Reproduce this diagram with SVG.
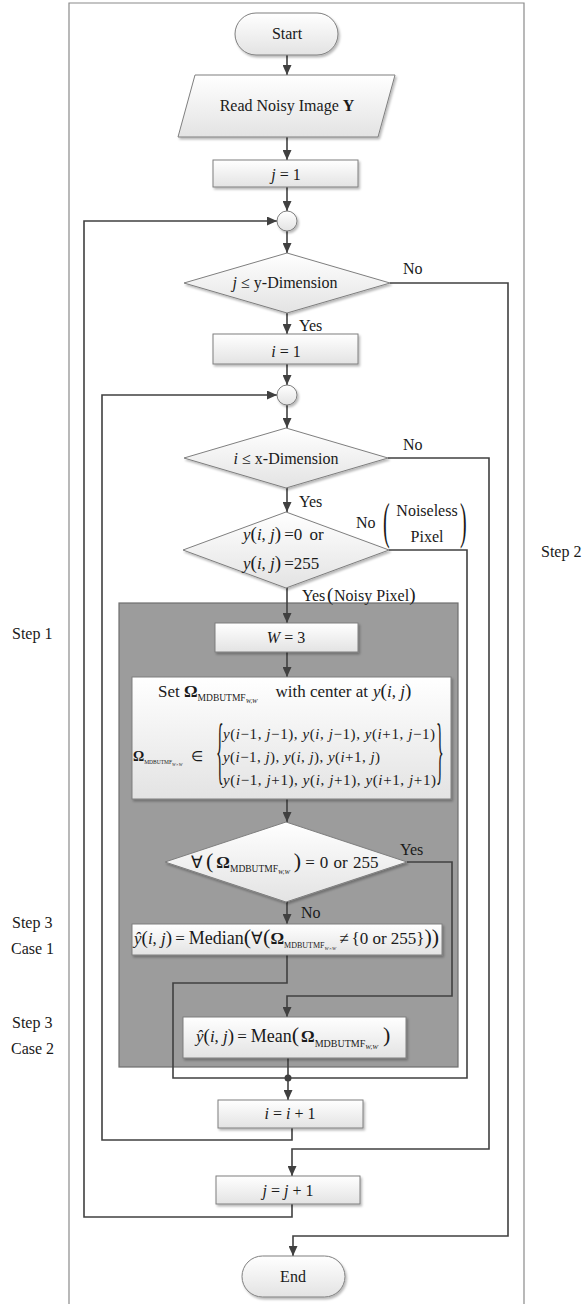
<svg xmlns="http://www.w3.org/2000/svg" width="582" height="1304" viewBox="0 0 582 1304" font-size="16">
<defs>
<linearGradient id="gf" x1="0" y1="0" x2="0" y2="1"><stop offset="0" stop-color="#ffffff"/><stop offset="1" stop-color="#e3e3e3"/></linearGradient>
<filter id="sh" x="-10%" y="-10%" width="130%" height="140%"><feDropShadow dx="1.5" dy="2" stdDeviation="1.2" flood-color="#000" flood-opacity="0.28"/></filter>
<marker id="ah" markerUnits="userSpaceOnUse" markerWidth="10" markerHeight="9" refX="10" refY="4.5" orient="auto"><path d="M0,0 L10,4.5 L0,9 z" fill="#404040"/></marker>
</defs>
<style>
.nd{fill:url(#gf);stroke:#7f7f7f;stroke-width:1;filter:url(#sh)}
.cn{fill:none;stroke:#404040;stroke-width:1.6}
.ar{marker-end:url(#ah)}
.fr{fill:none;stroke:#8a8a8a;stroke-width:1.2}
text{font-family:"Liberation Serif","Times New Roman",serif;fill:#1a1a1a}
.it{font-style:italic}
.b{font-weight:bold}
.c{text-anchor:middle}
</style>
<rect width="582" height="1304" fill="#ffffff"/>
<g id="frame"><path class="fr" d="M69,1304 V3 H524 V1304"/></g>

<g id="n-group"><rect x="119" y="603" width="339" height="464" fill="#9c9c9c" stroke="#6f6f6f" stroke-width="1.2"/></g>

<g id="connectors">
<path class="cn ar" d="M287,55 V75"/>
<path class="cn ar" d="M287,137 V160"/>
<path class="cn ar" d="M287,187 V211"/>
<path class="cn ar" d="M287,231 V253"/>
<path class="cn ar" d="M287,313 V334"/>
<path class="cn ar" d="M287,364 V385"/>
<path class="cn ar" d="M287,405 V428"/>
<path class="cn ar" d="M287,488 V512"/>
<path class="cn ar" d="M287,588 V623"/>
<path class="cn ar" d="M287,652 V677"/>
<path class="cn ar" d="M287,799 V822"/>
<path class="cn ar" d="M287,902 V924"/>
<path class="cn" d="M287,955 V983 H173 V1078 H288"/>
<path class="cn" d="M389,550 H467 V1078 H288"/>
<path class="cn ar" d="M407,862 H452 V996 H287 V1017"/>
<path class="cn ar" d="M288,1058 V1100"/>
<circle cx="288" cy="1078" r="3.5" fill="#404040"/>
<path class="cn ar" d="M292,1128 V1140 H102 V395 H277"/>
<path class="cn ar" d="M388,458 H489 V1149 H292 V1176"/>
<path class="cn ar" d="M292,1204 V1217 H84 V221 H277"/>
<path class="cn ar" d="M390,283 H508 V1236 H293 V1256"/>
</g>

<g id="n-start"><rect class="nd" x="235" y="13" width="103" height="42" rx="21"/><text class="c" x="287" y="39">Start</text></g>
<g id="n-read"><polygon class="nd" points="195,75 395,75 378,137 178,137"/><text class="c" x="287" y="111">Read Noisy Image <tspan class="b">Y</tspan></text></g>
<g id="n-j1"><rect class="nd" x="213" y="160" width="145" height="27"/><text class="c" x="286" y="180"><tspan class="it">j</tspan> = 1</text></g>
<g id="n-c1"><circle class="nd" cx="287" cy="221" r="10"/></g>
<g id="n-d1"><polygon class="nd" points="287,253 390,283 287,313 184,283"/><text class="c" x="285" y="288"><tspan class="it">j</tspan> ≤ y-Dimension</text></g>
<g id="n-i1"><rect class="nd" x="213" y="334" width="145" height="30"/><text class="c" x="286" y="357"><tspan class="it">i</tspan> = 1</text></g>
<g id="n-c2"><circle class="nd" cx="287" cy="395" r="10"/></g>
<g id="n-d2"><polygon class="nd" points="286,428 388,458 286,488 184,458"/><text class="c" x="286" y="464"><tspan class="it">i</tspan> ≤ x-Dimension</text></g>
<g id="n-d3"><polygon class="nd" points="286,512 389,550 286,588 183,550"/>
<text x="243" y="540" font-size="17"><tspan class="it">y</tspan><tspan font-size="19">(</tspan><tspan class="it">i</tspan>, <tspan class="it">j</tspan><tspan font-size="19">)</tspan><tspan dx="3" word-spacing="3">=0 or</tspan></text>
<text x="243" y="569" font-size="17"><tspan class="it">y</tspan><tspan font-size="19">(</tspan><tspan class="it">i</tspan>, <tspan class="it">j</tspan><tspan font-size="19">)</tspan><tspan dx="3">=255</tspan></text></g>

<g id="n-w3"><rect class="nd" x="215" y="623" width="143" height="29"/><text class="c" x="286" y="643"><tspan class="it">W</tspan> = 3</text></g>
<g id="n-set"><rect class="nd" x="132" y="677" width="319" height="122"/>
<text x="158" y="697" font-size="17">Set <tspan class="b">Ω</tspan><tspan font-size="9.5" dy="4">MDBUTMF</tspan><tspan font-size="6.5" class="it" dy="2">W,W</tspan><tspan dx="18" dy="-6">with center at</tspan><tspan dx="5" class="it">y</tspan><tspan font-size="19">(</tspan><tspan class="it">i</tspan>, <tspan class="it">j</tspan><tspan font-size="19">)</tspan></text>
<text x="133" y="761" font-size="14"><tspan class="b">Ω</tspan><tspan font-size="5.5" dy="3">MDBUTMF</tspan><tspan font-size="4.5" class="it" dy="1.5">W×W</tspan><tspan dx="8" dy="-4.5">∈</tspan></text>
<text transform="translate(216,756) scale(1,4.6)" x="0" y="4.1" font-size="16">{</text>
<text transform="translate(436,756) scale(1,4.6)" x="0" y="4.1" font-size="16">}</text>
<text x="223" y="739" font-size="15" textLength="212" lengthAdjust="spacing"><tspan class="it">y</tspan>(<tspan class="it">i</tspan>−1, <tspan class="it">j</tspan>−1), <tspan class="it">y</tspan>(<tspan class="it">i</tspan>, <tspan class="it">j</tspan>−1), <tspan class="it">y</tspan>(<tspan class="it">i</tspan>+1, <tspan class="it">j</tspan>−1)</text>
<text x="223" y="762" font-size="15" textLength="157" lengthAdjust="spacing"><tspan class="it">y</tspan>(<tspan class="it">i</tspan>−1, <tspan class="it">j</tspan>), <tspan class="it">y</tspan>(<tspan class="it">i</tspan>, <tspan class="it">j</tspan>), <tspan class="it">y</tspan>(<tspan class="it">i</tspan>+1, <tspan class="it">j</tspan>)</text>
<text x="223" y="785" font-size="15" textLength="213" lengthAdjust="spacing"><tspan class="it">y</tspan>(<tspan class="it">i</tspan>−1, <tspan class="it">j</tspan>+1), <tspan class="it">y</tspan>(<tspan class="it">i</tspan>, <tspan class="it">j</tspan>+1), <tspan class="it">y</tspan>(<tspan class="it">i</tspan>+1, <tspan class="it">j</tspan>+1)</text>
</g>

<g id="n-d4"><polygon class="nd" points="286,822 407,862 286,902 165,862"/>
<text x="191" y="868" font-size="17">∀<tspan dx="3" font-size="22">(</tspan><tspan dx="3" class="b">Ω</tspan><tspan font-size="9.5" dy="4">MDBUTMF</tspan><tspan font-size="6.5" class="it" dy="2">W,W</tspan><tspan dx="4" dy="-6" font-size="22">)</tspan><tspan dx="4">=</tspan><tspan dx="5" word-spacing="1">0 or 255</tspan></text></g>

<g id="n-median"><rect class="nd" x="132" y="924" width="310" height="31"/>
<text x="134" y="944" font-size="17"><tspan class="it">ŷ</tspan><tspan font-size="19">(</tspan><tspan class="it">i</tspan>, <tspan class="it">j</tspan><tspan font-size="19">)</tspan><tspan dx="3">=</tspan><tspan dx="4" font-size="18">Median</tspan><tspan font-size="22">(</tspan>∀<tspan font-size="22">(</tspan><tspan class="b">Ω</tspan><tspan font-size="8" dy="4">MDBUTMF</tspan><tspan font-size="5" class="it" dy="2">W×W</tspan><tspan dx="3" dy="-6">≠</tspan><tspan dx="3">{0 or 255}</tspan><tspan font-size="22">))</tspan></text></g>

<g id="n-mean"><rect class="nd" x="183" y="1017" width="223" height="41"/>
<text x="196" y="1042" font-size="17"><tspan class="it">ŷ</tspan><tspan font-size="19">(</tspan><tspan class="it">i</tspan>, <tspan class="it">j</tspan><tspan font-size="19">)</tspan><tspan dx="3">=</tspan><tspan dx="4" font-size="18">Mean</tspan><tspan font-size="22">(</tspan><tspan dx="2" class="b">Ω</tspan><tspan font-size="10" dy="5">MDBUTMF</tspan><tspan font-size="7" class="it" dy="2">W,W</tspan><tspan dx="5" dy="-7" font-size="22">)</tspan></text></g>

<g id="n-ii"><rect class="nd" x="218" y="1100" width="145" height="28"/><text class="c" x="290" y="1119"><tspan class="it">i</tspan> = <tspan class="it">i</tspan> + 1</text></g>
<g id="n-jj"><rect class="nd" x="216" y="1176" width="144" height="28"/><text class="c" x="288" y="1196"><tspan class="it">j</tspan> = <tspan class="it">j</tspan> + 1</text></g>
<g id="n-end"><rect class="nd" x="242" y="1256" width="103" height="41" rx="20.5"/><text class="c" x="293" y="1282">End</text></g>

<g id="labels">
<text x="403" y="274">No</text>
<text x="299" y="331">Yes</text>
<text x="403" y="450">No</text>
<text x="299" y="507">Yes</text>
<text x="356" y="528">No</text>
<text transform="translate(383,525) scale(1,2.5)" x="0" y="5.1" font-size="20">(</text>
<text class="c" x="427" y="516">Noiseless</text>
<text class="c" x="427" y="542">Pixel</text>
<text transform="translate(460,525) scale(1,2.5)" x="0" y="5.1" font-size="20">)</text>
<text y="601"><tspan x="302">Yes</tspan><tspan x="327" font-size="19">(</tspan><tspan x="334">Noisy Pixel</tspan><tspan font-size="19">)</tspan></text>
<text x="400" y="855">Yes</text>
<text x="301" y="918">No</text>
<text x="12" y="639">Step 1</text>
<text x="541" y="557">Step 2</text>
<text x="12" y="928">Step 3</text>
<text x="11" y="954">Case 1</text>
<text x="12" y="1028">Step 3</text>
<text x="11" y="1054">Case 2</text>
</g>
</svg>
